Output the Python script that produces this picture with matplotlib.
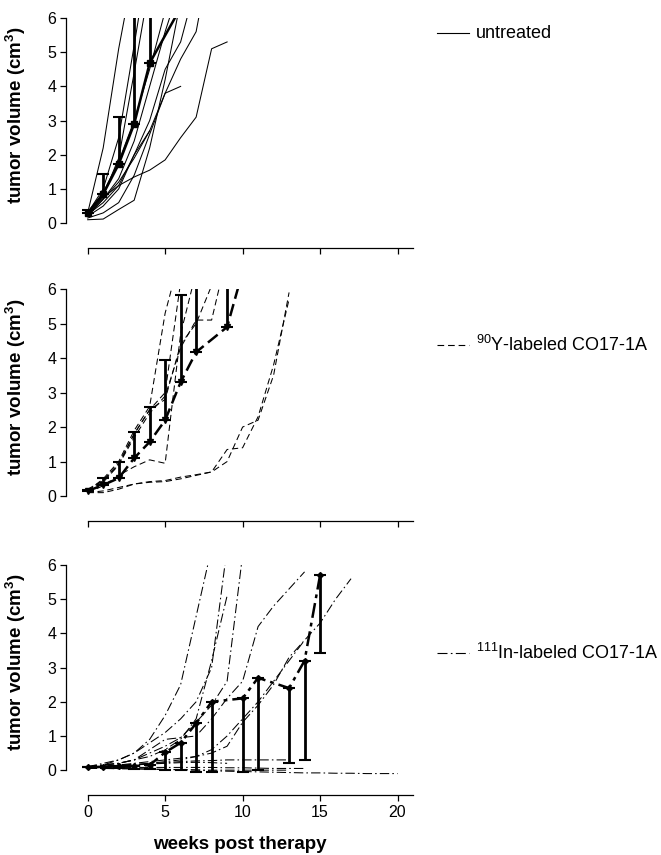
import numpy as np
import matplotlib
matplotlib.use('Agg')
import matplotlib.pyplot as plt
from matplotlib.lines import Line2D

plt.rcParams['font.family'] = ['Liberation Sans', 'DejaVu Sans']
plt.rcParams['mathtext.fontset'] = 'custom'
plt.rcParams['mathtext.rm'] = 'Liberation Sans'
plt.rcParams['mathtext.bf'] = 'Liberation Sans:bold'

# Datos: curvas individuales (semana 0, 1, 2, ...)
untreated = [
    [0.3, 2.2, 5.1, 7.5],
    [0.3, 1.0, 2.5, 5.2, 8.0],
    [0.2, 0.8, 1.9, 4.4, 7.0],
    [0.3, 0.9, 1.8, 3.0, 4.5, 6.2],
    [0.25, 0.7, 1.3, 2.4, 4.0, 5.6, 7.0],
    [0.2, 0.5, 1.0, 2.0, 3.0, 4.5, 5.3, 7.0],
    [0.15, 0.3, 0.6, 1.4, 2.6, 3.8, 4.8, 5.6, 8.0],
    [0.3, 0.75, 1.1, 1.35, 1.55, 1.85, 2.5, 3.1, 5.1, 5.3],
    [0.2, 0.7, 1.2, 1.9, 2.7, 3.8, 4.0],
    [0.25, 0.6, 1.1, 2.0, 2.7],
    [0.1, 0.12, 0.4, 0.67, 2.2, 4.2, 6.5],
]
untreated_mean_wk = [0, 1, 2, 3, 4, 6]
untreated_mean = [0.3, 0.85, 1.72, 2.9, 4.68, 6.3]
untreated_sd = [0.08, 0.6, 1.38, 4.0, 3.0]

y90 = [
    [0.1, 0.15, 0.25, 0.35, 0.4, 0.42, 0.5, 0.6, 0.7, 1.0, 2.0, 2.2, 3.5, 5.9],
    [0.1, 0.1, 0.2, 0.35, 0.42, 0.45, 0.55, 0.62, 0.7, 1.35, 1.4, 2.3, 3.8, 5.7],
    [0.1, 0.3, 0.6, 0.85, 1.05, 0.95, 4.7, 6.5],
    [0.15, 0.5, 1.0, 1.9, 2.6, 5.3, 7.0],
    [0.15, 0.4, 0.9, 1.7, 2.4, 2.9, 4.3, 5.1, 5.1, 7.0],
    [0.15, 0.45, 0.95, 1.8, 2.5, 2.8, 4.4, 5.0, 6.1],
    [0.2, 0.45, 0.9, 1.8, 2.5, 3.0, 6.2],
]
y90_mean_wk = [0, 1, 2, 3, 4, 5, 6, 7, 9, 10]
y90_mean = [0.15, 0.32, 0.52, 1.1, 1.57, 2.2, 3.3, 4.17, 4.9, 6.5]
y90_sd = [0.03, 0.2, 0.46, 0.76, 1.0, 1.74, 2.53, 3.0, 3.0]

in111 = [
    [0.1, 0.15, 0.3, 0.5, 0.9, 1.6, 2.5, 4.5, 6.5],
    [0.1, 0.2, 0.3, 0.5, 0.8, 1.1, 1.5, 2.0, 3.0, 6.5],
    [0.1, 0.15, 0.2, 0.3, 0.4, 0.6, 0.9, 1.5, 3.2, 5.1],
    [0.1, 0.15, 0.2, 0.3, 0.5, 0.7, 0.95, 1.4, 1.9, 2.6, 6.3],
    [0.1, 0.15, 0.2, 0.3, 0.6, 0.9, 0.95, 1.0, 1.5, 2.1, 2.6, 4.2, 4.8, 5.3, 5.8],
    [0.1, 0.1, 0.15, 0.2, 0.25, 0.3, 0.35, 0.4, 0.5, 0.7, 1.4, 1.9, 2.5, 3.3, 3.8, 4.3, 5.0, 5.6],
    [0.1, 0.1, 0.12, 0.15, 0.2, 0.25, 0.3, 0.4, 0.6, 1.0, 1.5, 2.0, 2.6, 3.2, 3.8],
    [0.1, 0.12, 0.15, 0.17, 0.2, 0.22, 0.25, 0.27, 0.28, 0.3, 0.3, 0.3, 0.3, 0.3],
    [0.08, 0.1, 0.12, 0.15, 0.18, 0.2, 0.22, 0.23, 0.22, 0.2],
    [0.08, 0.08, 0.08, 0.08, 0.08, 0.08, 0.08, 0.08, 0.08, 0.07, 0.07, 0.06, 0.05, 0.05, 0.05],
    [0.05, 0.05, 0.05, 0.04, 0.03, 0.02, 0.02, 0.01, 0.0, 0.0, 0.0, 0.0, 0.0, 0.0],
    [0.05, 0.05, 0.04, 0.04, 0.03, 0.02, 0.01, 0.0, -0.02, -0.03, -0.04, -0.05, -0.06,
     -0.07, -0.08, -0.08, -0.09, -0.09, -0.1, -0.1, -0.1],
]
in111_mean_wk = [0, 1, 2, 3, 4, 5, 6, 7, 8, 10, 11, 13, 14, 15]
in111_mean = [0.08, 0.1, 0.12, 0.12, 0.15, 0.52, 0.8, 1.37, 2.0, 2.1, 2.7, 2.4, 3.2, 5.7]
in111_sd = [0.0, 0.02, 0.05, 0.08, 0.12, 0.52, 0.8, 1.42, 2.05, 2.15, 2.7, 2.2, 2.9, 2.27]

labels = ['untreated', r'$^{90}$Y-labeled CO17-1A', r'$^{111}$In-labeled CO17-1A']
legend_y = [33, 345, 653]

W, H = 661, 855
fig = plt.figure(figsize=(W / 100, H / 100), dpi=100)

# posiciones de los paneles en pixeles (arriba, abajo)
paneles = [(18, 230), (289, 503), (565, 777)]
thin_styles = ['-', (0, (6, 3.5)), (0, (9, 3, 1.5, 3))]
mean_styles = ['-', (0, (5, 2.2)), (0, (6, 2, 1.5, 2))]
markers = ['s', 'v', 'D']
marker_sizes = [5, 5, 3]

grupos = [
    (untreated, untreated_mean_wk, untreated_mean, untreated_sd, 'up'),
    (y90, y90_mean_wk, y90_mean, y90_sd, 'up'),
    (in111, in111_mean_wk, in111_mean, in111_sd, 'down'),
]

for i, (curvas, mwk, mval, sd, direc) in enumerate(grupos):
    top, bot = paneles[i]
    ax = fig.add_axes([66 / W, 1 - bot / H, 347 / W, (bot - top) / H])
    for c in curvas:
        ax.plot(np.arange(len(c)), c, color='black', lw=0.75, ls=thin_styles[i])
    ax.plot(mwk, mval, color='black', lw=1.8, ls=mean_styles[i])
    n = len(sd)
    sd = np.array(sd)
    if direc == 'up':
        yerr = [np.zeros(n), sd]
    else:
        yerr = [sd, np.zeros(n)]
    ax.errorbar(mwk[:n], mval[:n], yerr=yerr, fmt=markers[i], color='black',
                ms=marker_sizes[i], elinewidth=2.0, capsize=4, capthick=1.5)

    ax.set_xlim(-1.4, 21)
    ax.set_ylim(-0.2, 6)
    ax.spines['top'].set_visible(False)
    ax.spines['right'].set_visible(False)
    ax.spines['left'].set_bounds(0, 6)
    ax.spines['bottom'].set_bounds(0, 21)
    ax.spines['bottom'].set_position(('outward', 13))
    for s in ['left', 'bottom']:
        ax.spines[s].set_linewidth(0.9)
    ax.set_yticks(range(0, 7))
    ax.set_xticks([0, 5, 10, 15, 20])
    ax.tick_params(axis='both', length=4, width=0.9, labelsize=11.5, pad=3)
    if i < 2:
        ax.set_xticklabels([])
    else:
        ax.set_xlabel('weeks post therapy', fontsize=13.5, fontweight='bold', labelpad=12)
    ax.set_ylabel(r'tumor volume (cm$^{\mathbf{3}}$)', fontsize=13.5, fontweight='bold')
    ax.yaxis.set_label_coords(-0.11, 0.54)

    # leyenda a la derecha
    yl = 1 - legend_y[i] / H
    fig.add_artist(Line2D([437 / W, 469 / W], [yl, yl], transform=fig.transFigure,
                          color='black', lw=0.8, ls=thin_styles[i]))
    fig.text(476 / W, yl, labels[i], fontsize=13, va='center', ha='left')

plt.savefig('out.png', dpi=100)
